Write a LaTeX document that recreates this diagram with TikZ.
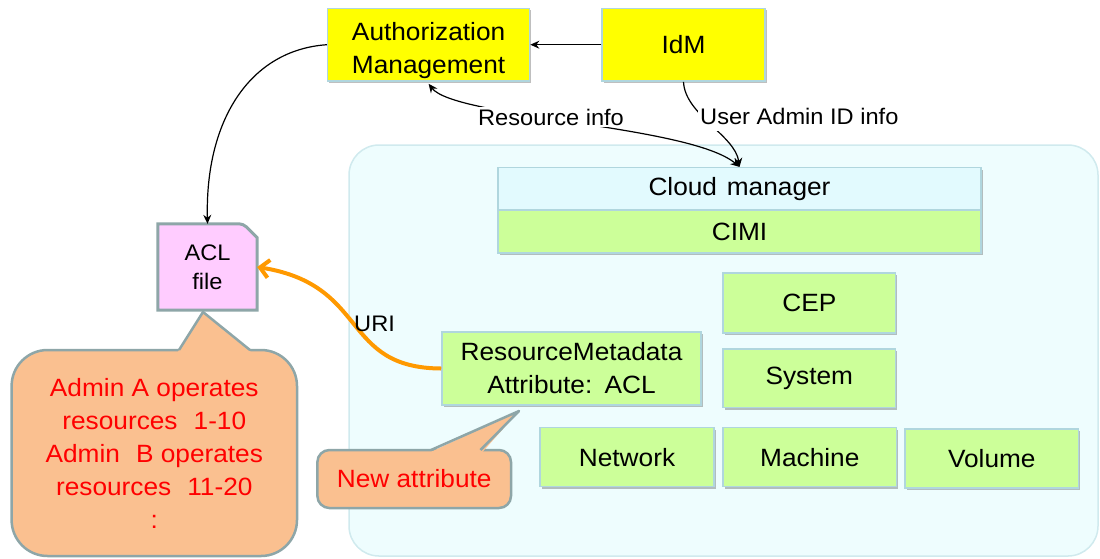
\documentclass[tikz,border=0pt]{standalone}
\usepackage{fontspec}
\setmainfont{Liberation Sans}[FakeStretch=1.05]
\usetikzlibrary{arrows.meta,shadows,calc}
\definecolor{yel}{RGB}{255,255,0}
\definecolor{grn}{RGB}{204,255,153}
\definecolor{cmfill}{RGB}{226,250,254}
\definecolor{boxline}{RGB}{176,214,222}
\definecolor{cloudfill}{RGB}{238,253,254}
\definecolor{cloudline}{RGB}{208,234,238}
\definecolor{pinkf}{RGB}{255,204,255}
\definecolor{calloutf}{RGB}{250,192,144}
\definecolor{calloutl}{RGB}{142,166,168}
\definecolor{arroworange}{RGB}{255,153,0}
\begin{document}
\begin{tikzpicture}[x=1pt,y=-1pt,
  bigfont/.style={font=\fontsize{25}{33}\selectfont},
  lblfont/.style={font=\fontsize{22.5}{28}\selectfont},
  box/.style={draw=boxline, line width=1.5pt, inner sep=0pt, align=center, bigfont,
    drop shadow={shadow xshift=1.5pt, shadow yshift=-2pt, fill=black, opacity=0.25}},
  ybox/.style={box, fill=yel},
  gbox/.style={box, fill=grn},
  conn/.style={line width=1.2pt, -{Stealth[length=9pt,width=8pt,inset=3pt]}},
  biconn/.style={line width=1.2pt, {Stealth[length=9pt,width=8pt,inset=3pt]}-{Stealth[length=9pt,width=8pt,inset=3pt]}},
  orangeconn/.style={draw=arroworange, line width=4pt, -{Straight Barb[length=9pt,width=18pt]}},
  callout/.style={draw=calloutl, fill=calloutf, line width=2.5pt, text=red, align=center, bigfont, inner sep=0pt},
  lbl/.style={lblfont, fill=white, inner sep=2pt}
]
\useasboundingbox (0,0) rectangle (1100,558);

% cloud area
\node[draw=cloudline, fill=cloudfill, line width=1.5pt, rounded corners=30pt,
  minimum width=749pt, minimum height=411pt, inner sep=0pt] (cloud) at (723.5,350.5) {};

% top boxes
\node[ybox, minimum width=202pt, minimum height=72.7pt] (auth) at (428.6,44.7) {\rule{0pt}{29pt}Authorization\\Management};
\node[ybox, minimum width=163pt, minimum height=72.7pt] (idm) at (683.5,44.7) {IdM};

% cloud manager stack
\node[box, fill=cmfill, minimum width=483pt, minimum height=42.3pt] (cm) at (739.5,188.8) {Cloud\hspace{0.1em} manager};
\node[gbox, minimum width=483pt, minimum height=43pt] (cimi) at (739.5,231.5) {CIMI};

\node[gbox, minimum width=172.5pt, minimum height=59.7pt] (cep) at (809.3,302.9) {CEP};
\node[gbox, minimum width=172.5pt, minimum height=58.7pt] (sys) at (809.3,378.3) {System};
\node[gbox, minimum width=259pt, minimum height=73pt] (rm) at (571.5,368.5) {ResourceMetadata\\Attribute:\hspace{0.1em} ACL};
\node[gbox, minimum width=174pt, minimum height=59pt] (net) at (627,457.2) {Network};
\node[gbox, minimum width=173.5pt, minimum height=59pt] (mach) at (809.8,457.2) {Machine};
\node[gbox, minimum width=173.6pt, minimum height=59pt] (vol) at (991.8,458.5) {Volume};

% ACL file
\node[minimum width=99pt, minimum height=86pt, inner sep=0pt] (acl) at (207.5,267) {};
\draw[draw=calloutl, fill=pinkf, line width=3pt, rounded corners=4pt]
  (acl.north west) -- ($(acl.north east)+(-14,0)$) [sharp corners] -- ($(acl.north east)+(0,14)$)
  -- (acl.south east) -- (acl.south west) -- cycle;
\node[align=center, font=\fontsize{22.5}{29}\selectfont] (acltext) at (acl.center) {ACL\\file};

% callout 1
\node[callout, rounded corners=36pt, minimum width=285.4pt, minimum height=206pt] (note1) at (154.3,453)
  {Admin A operates\\resources\hspace{0.35em} 1-10\\Admin\hspace{0.35em} B operates\\resources\hspace{0.35em} 11-20\\:};
\fill[calloutf] (177.5,352.5) -- (203,312) -- (251.5,352.5) -- cycle;
\draw[calloutl, line width=2.5pt, line join=round] (179,350) -- (203,312) -- (250,350);

% callout 2
\node[callout, rounded corners=12pt, minimum width=193.6pt, minimum height=58pt] (note2) at (414.2,479) {New attribute};
\fill[calloutf] (429.5,452.5) -- (519,411) -- (482,452.5) -- cycle;
\draw[calloutl, line width=2.5pt, line join=round] (431,450) -- (519,411) -- (480.5,450);

% connectors
\draw[conn] (idm.west) -- (auth.east);
\draw[conn] (auth.west) .. controls (250,50) and (205,120) .. (acl.north);
\draw[conn] (idm.south) .. controls (685,115) and (735,135) .. (cm.north);
\node[lbl, anchor=west, minimum height=30pt] (uai) at (698,116) {User Admin ID info};
\draw[biconn] ($(auth.south)+(0,2)$) .. controls (455,118) and (690,125) .. (cm.north);
\node[lbl] (rinfo) at (551,117) {Resource info};
\draw[orangeconn] (rm.west) .. controls (340,368) and (370,285) .. (acl.east);
\node[lblfont, anchor=west, inner sep=2pt] (uri) at (352,324) {URI};
\end{tikzpicture}
\end{document}
